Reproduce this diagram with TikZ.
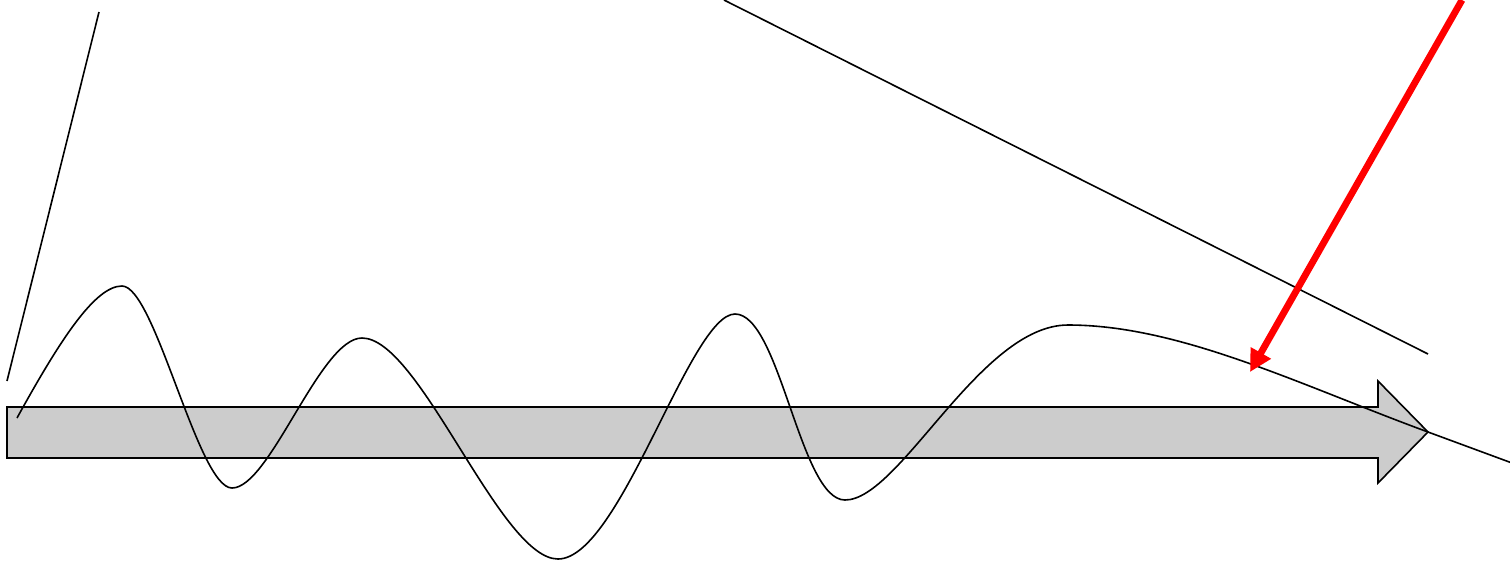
\documentclass[tikz,border=0pt]{standalone}
\usetikzlibrary{arrows.meta}
\definecolor{blockgray}{rgb}{0.80, 0.80, 0.80}

\begin{document}
\begin{tikzpicture}[x=0.5pt,y=-0.5pt,line join=miter,
  thin line/.style={black, line width=0.8pt},
  red pointer/.style={red, line width=3.4pt, -{Triangle[length=11pt,width=11pt]}}]

\useasboundingbox (0,0) rectangle (1510,564);

\coordinate (lstart) at (7,381);
\coordinate (lend)   at (99,12);
\coordinate (rstart) at (724,0);
\coordinate (rend)   at (1428,354);
\coordinate (ptail)  at (1462,0);
\coordinate (phead)  at (1250,372);

\draw[thin line] (lstart) -- (lend);
\draw[thin line] (rstart) -- (rend);

% block arrow
\draw[thin line, fill=blockgray] (7,407) -- (1378,407) -- (1378,381) -- (1428,432)
  -- (1378,483) -- (1378,458) -- (7,458) -- cycle;

% wave
\draw[thin line] (17,418) .. controls (60,340) and (95,286) .. (122,286)
  .. controls (155,286) and (198,488) .. (232,488)
  .. controls (270,488) and (320,338) .. (362,338)
  .. controls (420,338) and (500,559) .. (558,559)
  .. controls (620,559) and (690,314) .. (735,314)
  .. controls (780,314) and (800,500) .. (845,500)
  .. controls (900,500) and (980,325) .. (1068,325)
  .. controls (1180,325) and (1300,385) .. (1428,432) -- (1512,463);

\draw[red pointer] (ptail) -- (phead);

\end{tikzpicture}
\end{document}
